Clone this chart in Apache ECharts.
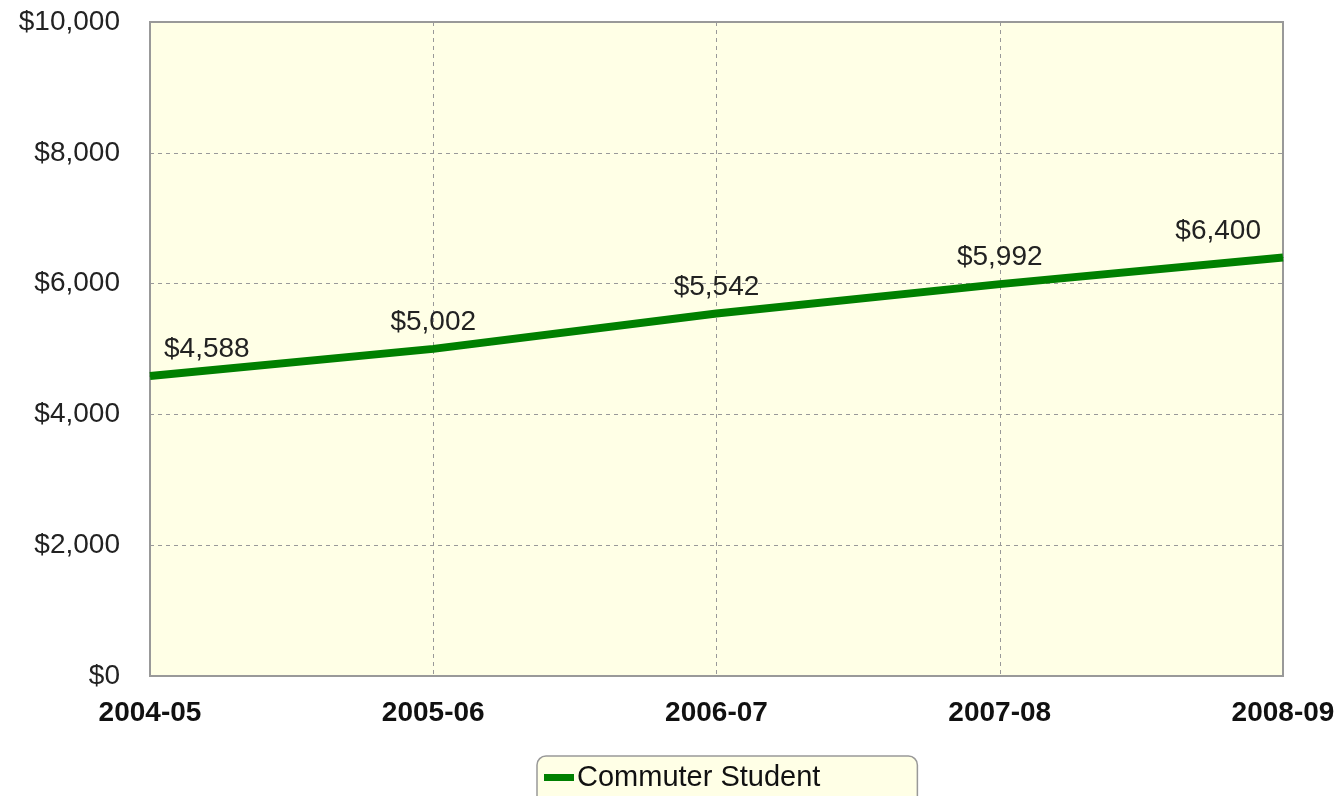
<!DOCTYPE html>
<html>
<head>
<meta charset="utf-8">
<script src="https://cdn.jsdelivr.net/npm/echarts@6/dist/echarts.min.js"></script>
<style>
  html, body { margin: 0; padding: 0; background: #fff; }
  #main { width: 1334px; height: 796px; }
</style>
</head>
<body>
<div id="main"></div>
<script>
// 数据
const years = ["2004-05", "2005-06", "2006-07", "2007-08", "2008-09"];
const commuterCost = [4588, 5002, 5542, 5992, 6400];

const fmtMoney = (v) => "$" + v.toLocaleString("en-US");

// 首尾标签往里收一点
const lineData = commuterCost.map((v, i) => {
  const item = { value: v };
  if (i === 0) item.label = { align: "left", offset: [14, 0] };
  if (i === commuterCost.length - 1) item.label = { align: "right", offset: [-22, 0] };
  return item;
});

const chart = echarts.init(document.getElementById("main"));
chart.setOption({
  animation: false,
  textStyle: { fontFamily: "Liberation Sans, Arial, sans-serif" },
  grid: {
    left: 150, right: 51, top: 22, bottom: 120,
    outerBoundsMode: "none",
    containLabel: false,
    show: true,
    backgroundColor: "#FFFFE6",
    borderColor: "#999",
    borderWidth: 2
  },
  legend: {
    top: 756,
    left: 537,
    itemWidth: 30,
    itemHeight: 7,
    itemGap: 4,
    icon: "rect",
    padding: [7, 97, 20, 7],
    backgroundColor: "#FFFFE6",
    borderColor: "#999",
    borderWidth: 1.5,
    borderRadius: 9,
    textStyle: { fontSize: 29, color: "#111", padding: [0, 0, 0, -2] },
    data: ["Commuter Student"]
  },
  xAxis: {
    type: "category",
    data: years,
    boundaryGap: false,
    axisLine: { show: false },
    axisTick: { show: false },
    axisLabel: { fontSize: 28, fontWeight: "bold", color: "#111", margin: 23 },
    splitLine: { show: true, lineStyle: { color: "#999", type: [4, 4], width: 1 } }
  },
  yAxis: {
    type: "value",
    min: 0,
    max: 10000,
    interval: 2000,
    axisLine: { show: false },
    axisTick: { show: false },
    axisLabel: { fontSize: 28, color: "#222", margin: 30, formatter: fmtMoney },
    splitLine: { show: true, lineStyle: { color: "#999", type: [4, 4], width: 1 } }
  },
  series: [{
    name: "Commuter Student",
    type: "line",
    data: lineData,
    symbol: "circle",
    symbolSize: 1,
    showSymbol: true,
    color: "#008000",
    lineStyle: { width: 8, color: "#008000" },
    label: {
      show: true,
      position: "top",
      distance: 12,
      fontSize: 28,
      color: "#222",
      formatter: (p) => fmtMoney(p.value)
    }
  }]
});
</script>
</body>
</html>
